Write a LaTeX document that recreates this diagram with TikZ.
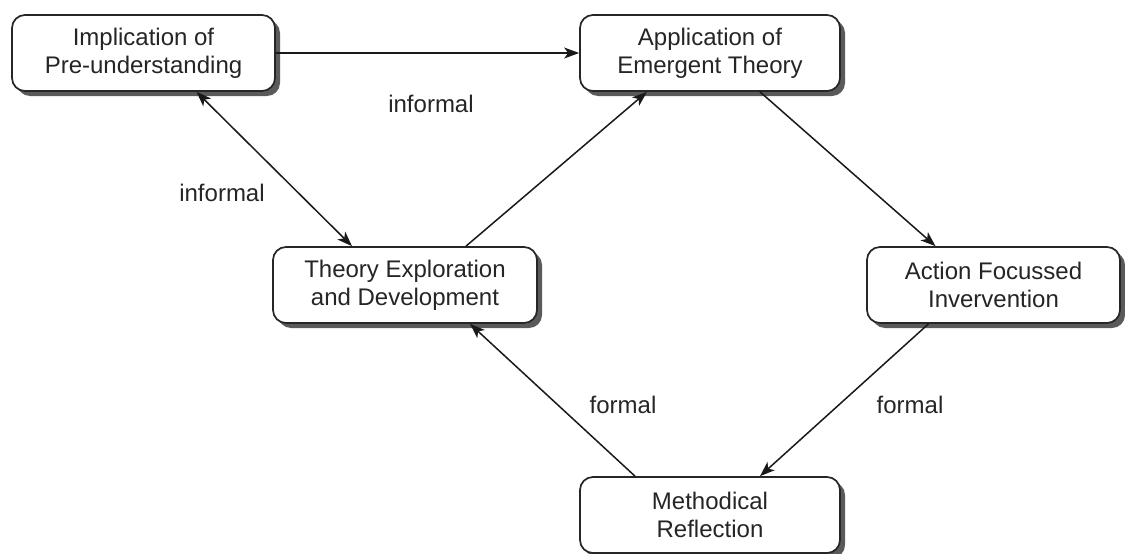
\documentclass[tikz,border=0pt]{standalone}
\usepackage{fontspec}
\setmainfont{Liberation Sans}
\usetikzlibrary{arrows.meta,shadows}
\definecolor{txt}{HTML}{252525}
\definecolor{shade}{HTML}{5A5A5A}
\begin{document}
\begin{tikzpicture}[x=1pt,y=-1pt,
  tip/.tip={Stealth[length=15pt,width=11pt,inset=4pt]},
  box/.style={draw=black!85, line width=1.7pt, fill=white, rounded corners=13pt,
    align=center, text=txt, inner sep=0pt,
    font=\fontsize{24}{28}\selectfont,
    drop shadow={shadow xshift=5pt, shadow yshift=-5pt, fill=shade, opacity=1}},
  conn/.style={draw=black!90, line width=1.5pt, -tip},
  lbl/.style={text=txt, font=\fontsize{24}{28}\selectfont, inner sep=0pt}]
\useasboundingbox (0,0) rectangle (1125,554);
% boxes
\node[box, minimum width=263pt, minimum height=76pt] (imp) at (143.5,53) {Implication of\\Pre-understanding};
\node[box, minimum width=260pt, minimum height=76pt] (app) at (710,53) {Application of\\Emergent Theory};
\node[box, minimum width=264pt, minimum height=76pt] (theo) at (405,285) {Theory Exploration\\and Development};
\node[box, minimum width=253pt, minimum height=76pt] (act) at (993.5,285) {Action Focussed\\Invervention};
\node[box, minimum width=260pt, minimum height=76pt] (meth) at (710,515) {Methodical\\Reflection};
% connectors
\draw[conn] (imp.east) -- (app.west);
\draw[conn, tip-tip] ([xshift=53pt]imp.south) -- ([xshift=-53pt]theo.north);
\draw[conn] ([xshift=61pt]theo.north) -- ([xshift=-63pt]app.south);
\draw[conn] ([xshift=50pt]app.south) -- ([xshift=-58pt]act.north);
\draw[conn] ([xshift=-65pt]act.south) -- ([xshift=50pt]meth.north);
\draw[conn] ([xshift=-75pt]meth.north) -- ([xshift=65pt]theo.south);
% labels
\node[lbl] (l1) at (431,104) {informal};
\node[lbl] (l2) at (222,193) {informal};
\node[lbl] (l3) at (623,405) {formal};
\node[lbl] (l4) at (910,405) {formal};
\end{tikzpicture}
\end{document}
